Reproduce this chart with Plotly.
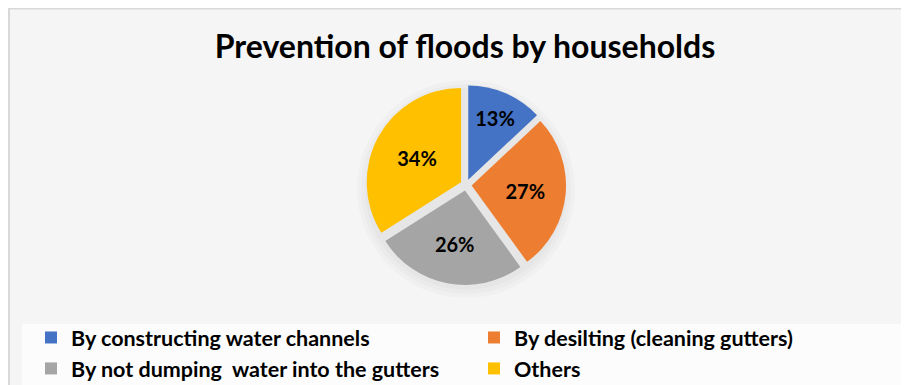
import plotly.graph_objects as go

# ---- data ----
categories = [
    "By constructing water channels",
    "By desilting (cleaning gutters)",
    "By not dumping  water into the gutters",
    "Others",
]
values = [13, 27, 26, 34]
colors = ["#4472C4", "#ED7D31", "#A5A5A5", "#FFC000"]
title_text = "Prevention of floods by households"

W, H = 909, 385
OFF = 8  # page body margin offset of the figure in the screenshot

def px_x(x):
    return (x - OFF) / W

def px_y(y):
    return 1 - (y - OFF) / H

CX, CY, HALF = 466, 185, 100

fig = go.Figure()
fig.add_trace(go.Pie(
    labels=categories,
    values=values,
    sort=False,
    direction="clockwise",
    rotation=0,
    pull=[0.06] * len(values),
    marker=dict(colors=colors, line=dict(width=0)),
    texttemplate="%{percent:.0%}",
    textposition="inside",
    insidetextorientation="horizontal",
    textfont=dict(family="Lato", size=20, color="#000000", weight="bold"),
    hoverinfo="label+percent",
    domain=dict(x=[px_x(CX - 140), px_x(CX + 140)], y=[px_y(CY + HALF), px_y(CY - HALF)]),
    showlegend=True,
))

shapes = [
    # chart area with border
    dict(type="rect", xref="paper", yref="paper", x0=px_x(9), x1=px_x(940), y0=px_y(420), y1=px_y(8.5),
         fillcolor="#f5f5f5", line=dict(color="#d9d9d9", width=2), layer="below"),
    # legend area (white)
    dict(type="rect", xref="paper", yref="paper", x0=px_x(22), x1=px_x(907), y0=px_y(400), y1=px_y(324),
         fillcolor="#fcfcfc", line=dict(width=0), layer="below"),
]
# soft shadow under the pie
for rr in [109, 105, 101]:
    shapes.append(dict(type="circle", xref="paper", yref="paper",
                       x0=px_x(CX - rr), x1=px_x(CX + rr), y0=px_y(CY + 4 + rr), y1=px_y(CY + 4 - rr),
                       fillcolor="rgba(0,0,0,0.02)", line=dict(width=0), layer="below"))

fig.update_layout(
    width=W, height=H,
    margin=dict(l=0, r=0, t=0, b=0, autoexpand=False),
    paper_bgcolor="#ffffff",
    plot_bgcolor="#ffffff",
    title=dict(text=title_text, x=px_x(465), xanchor="center", y=px_y(47), yanchor="middle",
               font=dict(family="Lato", size=32, color="#000000", weight="bold")),
    legend=dict(orientation="h", x=px_x(31), xanchor="left", y=px_y(317), yanchor="top",
                entrywidth=398, entrywidthmode="pixels",
                font=dict(family="Lato", size=21.5, color="#000000", weight="bold"),
                bgcolor="rgba(0,0,0,0)", traceorder="normal"),
    shapes=shapes,
)

fig.write_html("out.html")
